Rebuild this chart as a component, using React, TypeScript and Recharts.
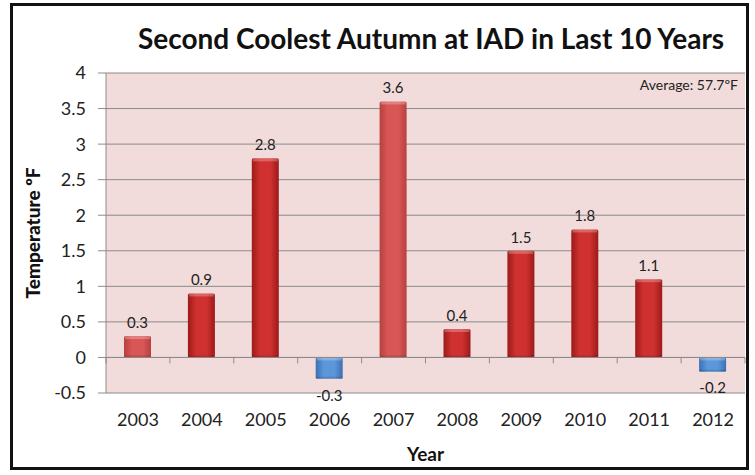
import React from 'react';
import { BarChart, Bar, XAxis, YAxis, CartesianGrid, ReferenceLine, LabelList } from 'recharts';

const YEARS = ['2003', '2004', '2005', '2006', '2007', '2008', '2009', '2010', '2011', '2012'];
const ANOMALY = [0.3, 0.9, 2.8, -0.3, 3.6, 0.4, 1.5, 1.8, 1.1, -0.2];
const Y_TICKS = [-0.5, 0, 0.5, 1, 1.5, 2, 2.5, 3, 3.5, 4];

// which warm bars are drawn in the lighter red
const LIGHT_BARS = [true, false, false, false, true, false, false, false, false, false];

const FONT = 'Lato, "Open Sans", sans-serif';

const data = YEARS.map((year, i) => ({ year, value: ANOMALY[i] }));

function colorsFor(value: number, i: number) {
  if (value < 0) return ['#3c6fb4', '#5b97d9'];
  return LIGHT_BARS[i] ? ['#b84040', '#d95656'] : ['#9c1a1a', '#cf3030'];
}

// bar with a little bevel, like the old Excel 3D style
const bevelBar = (props: any) => {
  const { x, y, width, height, index } = props;
  const v = ANOMALY[index];
  const top = Math.min(y, y + height);
  const h = Math.abs(height);
  const [edge, mid] = colorsFor(v, index);
  const id = `bar-grad-${index}`;
  return (
    <g key={id}>
      <defs>
        <linearGradient id={id} x1="0" y1="0" x2="1" y2="0">
          <stop offset="0%" stopColor={edge} />
          <stop offset="30%" stopColor={mid} />
          <stop offset="70%" stopColor={mid} />
          <stop offset="100%" stopColor={edge} />
        </linearGradient>
      </defs>
      <rect x={x} y={top} width={width} height={h} fill={`url(#${id})`} rx={1.5} />
      <rect x={x + 1} y={top} width={width - 2} height={Math.min(3, h)} fill="#ffffff" opacity={0.25} />
      <rect x={x} y={top + h - 2} width={width} height={2} fill="#000000" opacity={0.12} />
    </g>
  );
};

const ValueLabel = (props: any) => {
  const { x, y, width, height, value } = props;
  const top = Math.min(y, y + height);
  const bottom = Math.max(y, y + height);
  const ly = value < 0 ? bottom + 18 : top - 12;
  return (
    <text x={x + width / 2} y={ly} textAnchor="middle" dominantBaseline="middle" fontSize={15} fill="#222" fontFamily={FONT}>
      {value}
    </text>
  );
};

// zero line with small tick marks at the category edges
const ZeroAxis = (props: any) => {
  const { x1, y1, x2 } = props;
  const n = YEARS.length;
  const step = (x2 - x1) / n;
  return (
    <g>
      <line x1={x1} y1={y1} x2={x2} y2={y1} stroke="#8c8c8c" strokeWidth={1} />
      {Array.from({ length: n + 1 }, (_, k) => (
        <line key={k} x1={x1 + k * step} y1={y1} x2={x1 + k * step} y2={y1 + 6} stroke="#8c8c8c" strokeWidth={1} />
      ))}
    </g>
  );
};

const YTitle = (props: any) => {
  const { viewBox } = props;
  const cx = 35;
  const cy = viewBox.y + viewBox.height / 2;
  return (
    <text x={cx} y={cy} transform={`rotate(-90 ${cx} ${cy})`} textAnchor="middle" dominantBaseline="middle"
      fontSize={19} fontWeight="900" fill="#111" fontFamily={FONT}>
      Temperature ºF
    </text>
  );
};

export default function App() {
  return (
    <div style={{ position: 'absolute', left: 0, top: 0, width: 755, height: 475, background: '#fff' }}>
      <div style={{ position: 'absolute', left: 0, top: 21, width: 862, textAlign: 'center', fontFamily: FONT, fontWeight: 'bold', fontSize: 28, color: '#111' }}>
        Second Coolest Autumn at IAD in Last 10 Years
      </div>
      <BarChart width={755} height={475} data={data} margin={{ top: 73, right: 10, bottom: 0, left: 0 }} barSize={27}>
        <CartesianGrid vertical={false} stroke="#8a8a8a" fill="#f2dcdb" fillOpacity={1} />
        <XAxis
          dataKey="year"
          height={82}
          axisLine={false}
          tickLine={false}
          tickSize={0}
          tickMargin={20}
          tick={{ fontSize: 18, fill: '#222', fontFamily: FONT }}
          label={{ value: 'Year', position: 'insideBottom', offset: 14, fontSize: 19, fontWeight: 'bold', fill: '#111', fontFamily: FONT }}
        />
        <YAxis
          width={106}
          domain={[-0.5, 4]}
          ticks={Y_TICKS}
          interval={0}
          axisLine={{ stroke: '#8c8c8c' }}
          tickLine={{ stroke: '#8c8c8c' }}
          tickSize={8}
          tickMargin={12}
          tick={{ fontSize: 18, fill: '#222', fontFamily: FONT }}
          label={<YTitle />}
        />
        <ReferenceLine y={0} shape={<ZeroAxis />} />
        <ReferenceLine
          y={4}
          stroke="none"
          label={{ value: 'Average: 57.7ºF', position: 'insideTopRight', offset: 7, fontSize: 14, fill: '#222', fontFamily: FONT }}
        />
        <Bar dataKey="value" fill="#cf3030" isAnimationActive={false} shape={bevelBar}>
          <LabelList dataKey="value" content={<ValueLabel />} />
        </Bar>
      </BarChart>
      <div style={{ position: 'absolute', left: 10, top: 3, width: 733, height: 461, border: '3px solid #111', pointerEvents: 'none' }} />
    </div>
  );
}
